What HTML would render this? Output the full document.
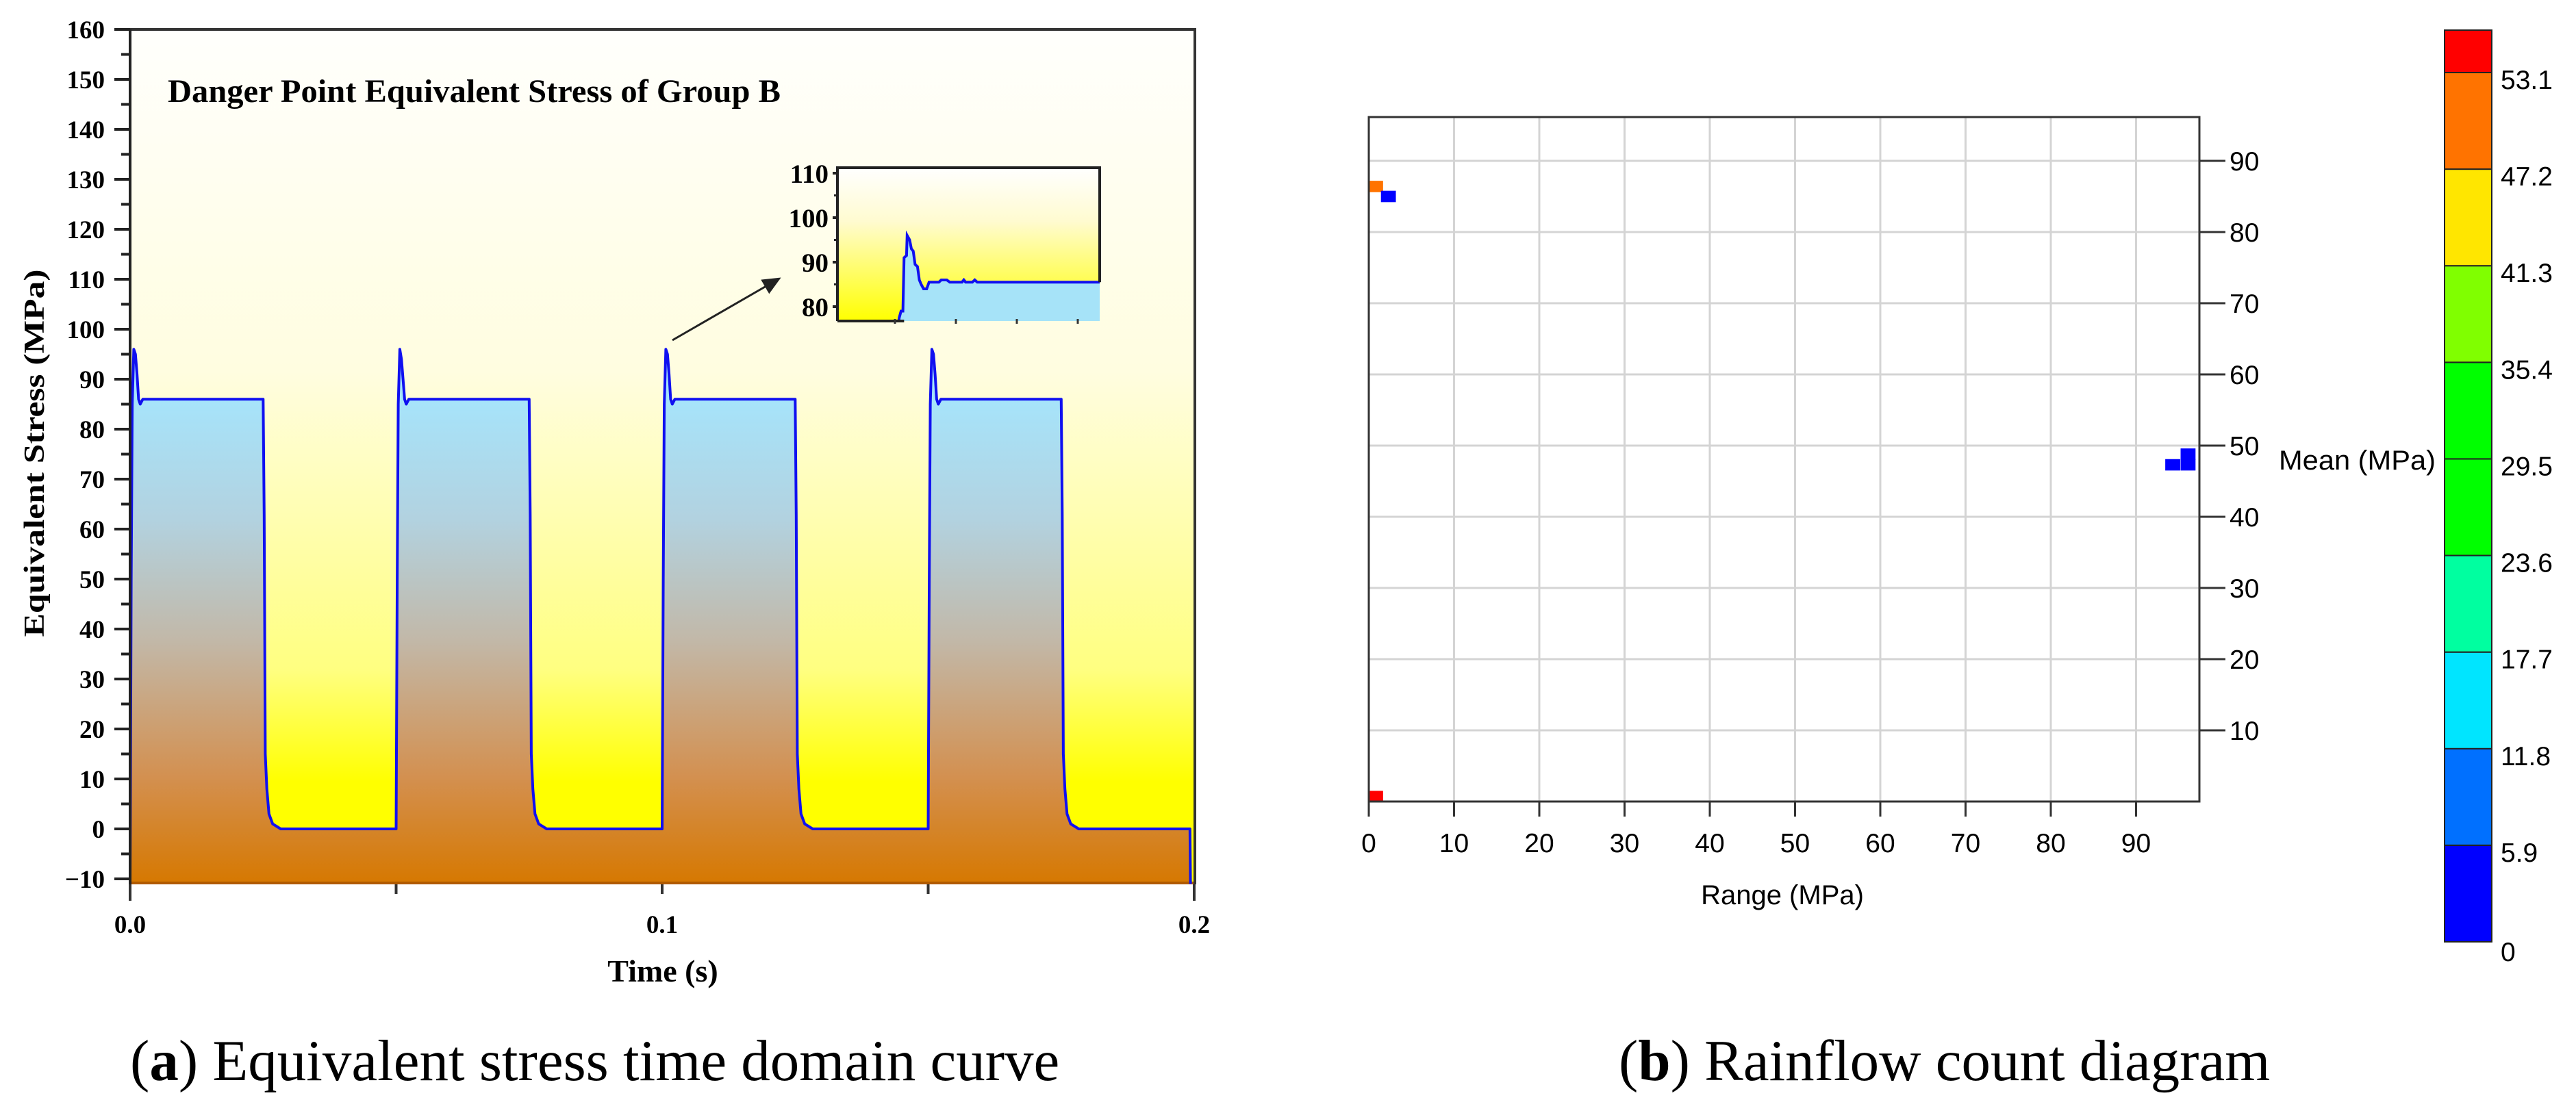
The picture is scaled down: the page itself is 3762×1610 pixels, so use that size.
<!DOCTYPE html>
<html><head><meta charset="utf-8"><style>
html,body{margin:0;padding:0;background:#fff;}
svg{display:block;}
.bs{font-family:"Liberation Serif",serif;font-weight:bold;}
.ar{font-family:"Liberation Sans",sans-serif;}
</style></head><body>
<svg id="fig" width="3762" height="1610" viewBox="0 0 3762 1610" xmlns="http://www.w3.org/2000/svg">
<defs>
<linearGradient id="bgA" x1="0" y1="43" x2="0" y2="1292" gradientUnits="userSpaceOnUse">
<stop offset="0" stop-color="#fffffc"/><stop offset="0.4" stop-color="#fffde0"/><stop offset="0.75" stop-color="#ffff80"/><stop offset="0.88" stop-color="#ffff00"/><stop offset="1" stop-color="#ffff00"/>
</linearGradient>
<linearGradient id="underA" x1="0" y1="580" x2="0" y2="1292" gradientUnits="userSpaceOnUse">
<stop offset="0" stop-color="#a6e4fb"/><stop offset="0.25" stop-color="#b2d2e0"/><stop offset="0.5" stop-color="#c2b8a8"/><stop offset="0.78" stop-color="#d39050"/><stop offset="1" stop-color="#d67800"/>
</linearGradient>
<linearGradient id="bgI" x1="0" y1="245" x2="0" y2="469" gradientUnits="userSpaceOnUse">
<stop offset="0" stop-color="#ffffff"/><stop offset="0.35" stop-color="#fffbd0"/><stop offset="1" stop-color="#ffff00"/>
</linearGradient>
<clipPath id="clipA"><rect x="190" y="43" width="1555" height="1249"/></clipPath>
<clipPath id="clipI"><rect x="1223" y="245" width="383" height="224"/></clipPath>
<marker id="arrowHead" markerWidth="10" markerHeight="10" refX="8" refY="5" orient="auto" markerUnits="strokeWidth"><path d="M0,1 L9,5 L0,9 Z" fill="#222"/></marker>
</defs>
<g id="chartA"></g>
<g id="chartB"></g>
<text x="190" y="1578" font-size="85" font-family="Liberation Serif, serif">(<tspan font-weight="bold">a</tspan>) Equivalent stress time domain curve</text>
<text x="2364" y="1578" font-size="85" font-family="Liberation Serif, serif">(<tspan font-weight="bold">b</tspan>) Rainflow count diagram</text>
</svg>
<script>
// ---------- Chart A data ----------
const stressT = [0,0.0002,0.0004,0.0007,0.0010,0.0013,0.0016,0.0019,0.0024,0.0250,0.0252,0.0254,0.0257,0.0261,0.0268,0.0283,0.0500,
0.0502,0.0504,0.0507,0.0510,0.0513,0.0516,0.0519,0.0524,0.0750,0.0752,0.0754,0.0757,0.0761,0.0768,0.0783,0.1000,
0.1002,0.1004,0.1007,0.1010,0.1013,0.1016,0.1019,0.1024,0.1250,0.1252,0.1254,0.1257,0.1261,0.1268,0.1283,0.1500,
0.1502,0.1504,0.1507,0.1510,0.1513,0.1516,0.1519,0.1524,0.1750,0.1752,0.1754,0.1757,0.1761,0.1768,0.1783,0.1992,0.1993];
const stressV = [-11,50,85,96,95,91,86,85,86,86,63,15,8,3,1,0,0,
50,85,96,94,90,86,85,86,86,63,15,8,3,1,0,0,
50,85,96,95,91,86,85,86,86,63,15,8,3,1,0,0,
50,85,96,95,91,86,85,86,86,63,15,8,3,1,0,0,-11];
const yTicksA = [-10,0,10,20,30,40,50,60,70,80,90,100,110,120,130,140,150,160];
const xTicksA = [0,0.1,0.2];
const xTickLabelsA = ["0.0","0.1","0.2"];
const insetU = [-0.94,0.0,0.07,0.1,0.13,0.15,0.19,0.2,0.24,0.27,0.3,0.33,0.37,0.4,0.43,0.47,0.52,0.56,0.72,0.76,0.85,0.9,1.1,1.13,1.16,1.27,1.31,1.35,4.3];
const insetV = [70,70,77.5,79,79,91,91.5,96,95,93,92.5,89.5,89,86,85,84,84,85.5,85.5,86,86,85.5,85.5,86,85.5,85.5,86,85.5,85.5];
const insetYTicks = [80,90,100,110];
const insetXTicks = [0,1,2,3];

// ---------- Chart B data ----------
const cellRange = [0.8, 2.3, 0.8, 94.3, 96.1, 96.1];
const cellMean = [86.4, 85.0, 0.7, 47.3, 47.3, 48.8];
const cellCount = [50, 3, 55, 3, 3, 3];
const xTicksB = [0,10,20,30,40,50,60,70,80,90];
const yTicksB = [10,20,30,40,50,60,70,80,90];
const levelValues = [0,5.9,11.8,17.7,23.6,29.5,35.4,41.3,47.2,53.1,56];
const levelLabels = ["0","5.9","11.8","17.7","23.6","29.5","35.4","41.3","47.2","53.1"];
const levelColors = ["#0000ff","#0070ff","#00e5ff","#00ffa0","#00ff00","#00ff00","#80ff00","#ffe600","#ff7300","#ff0000"];

const NS="http://www.w3.org/2000/svg";
function mk(parent,tag,attrs,text){const e=document.createElementNS(NS,tag);for(const k in attrs)e.setAttribute(k,attrs[k]);if(text!==undefined)e.textContent=text;parent.appendChild(e);return e;}

// ---------- Chart A ----------
(function(){
const g=document.getElementById('chartA');
const L=190,R=1745,T=43,B=1292;
const xA=t=>L+t*(1554/0.2);
const yA=v=>1211-v*7.3;
let el;
el=mk(g,'rect',{x:L,y:T,width:R-L,height:B-T,fill:'url(#bgA)'});


const cg=mk(g,'g',{'clip-path':'url(#clipA)'});
let pts=stressT.map((t,i)=>xA(t).toFixed(1)+','+yA(stressV[i]).toFixed(1));
el=mk(cg,'polygon',{points:xA(stressT[0])+','+B+' '+pts.join(' ')+' '+xA(stressT[stressT.length-1])+','+B,fill:'url(#underA)'});


el=mk(cg,'line',{x1:L,y1:B-2,x2:R,y2:B-2,stroke:'#b05a00','stroke-width':4});


el=mk(cg,'polyline',{points:pts.join(' '),fill:'none',stroke:'#1010f0','stroke-width':4,'stroke-linejoin':'round'});


el=mk(g,'path',{d:`M${L},${T} H${R} V${B}`,fill:'none',stroke:'#333','stroke-width':4});


el=mk(g,'line',{x1:L,y1:T,x2:L,y2:B+24,stroke:'#222','stroke-width':4});


yTicksA.forEach(v=>{
 let t=mk(g,'line',{x1:L-23,y1:yA(v),x2:L,y2:yA(v),stroke:'#222','stroke-width':4});
 
 
 if(v<160){let m=mk(g,'line',{x1:L-13,y1:yA(v+5),x2:L,y2:yA(v+5),stroke:'#222','stroke-width':4});
 
 }
 let lb=mk(g,'text',{x:153,y:yA(v)+13,'text-anchor':'end','font-size':37,class:'bs'},(v<0?'\u2212':'')+Math.abs(v));
 
 
});
[0,0.05,0.1,0.15,0.2].forEach(t=>{
 let tk=mk(g,'line',{x1:xA(t),y1:B,x2:xA(t),y2:B+(t===0||t===0.2?24:14),stroke:'#333','stroke-width':4});
 
 
});
xTicksA.forEach((t,i)=>{
 let lb=mk(g,'text',{x:xA(t),y:1363,'text-anchor':'middle','font-size':37,class:'bs'},xTickLabelsA[i]);
 
 
});
el=mk(g,'text',{x:968,y:1434,'text-anchor':'middle','font-size':46,class:'bs'},'Time (s)');


el=mk(g,'text',{x:0,y:0,'text-anchor':'middle','font-size':42,class:'bs',transform:'translate(64,662) rotate(-90)',textLength:537,lengthAdjust:'spacingAndGlyphs'},'Equivalent Stress (MPa)');


el=mk(g,'text',{x:245,y:149,'font-size':48,class:'bs',textLength:895,lengthAdjust:'spacingAndGlyphs'},'Danger Point Equivalent Stress of Group B');


el=mk(g,'line',{x1:982,y1:497,x2:1138,y2:407,stroke:'#222','stroke-width':3,'marker-end':'url(#arrowHead)'});


const IL=1223,IR=1606,IT=245,IB=469;
const xI=u=>1307+u*89;
const yI=v=>448-(v-80)*6.5;
const ig=mk(g,'g',{});


mk(ig,'rect',{x:IL,y:IT,width:IR-IL,height:IB-IT,fill:'url(#bgI)'});
const icg=mk(ig,'g',{'clip-path':'url(#clipI)'});
let ip=insetU.map((u,i)=>xI(u).toFixed(1)+','+yI(insetV[i]).toFixed(1));
el=mk(icg,'polygon',{points:xI(insetU[0])+','+IB+' '+ip.join(' ')+' '+IR+','+yI(insetV[insetV.length-1])+' '+IR+','+IB,fill:'#a6e3f8'});


el=mk(icg,'polyline',{points:ip.join(' '),fill:'none',stroke:'#1010f0','stroke-width':4});


mk(ig,'path',{d:`M${IL},${IB} V${IT} H${IR} V${yI(85.5)}`,fill:'none',stroke:'#222','stroke-width':4});
mk(ig,'line',{x1:IL,y1:IB,x2:xI(0.15),y2:IB,stroke:'#222','stroke-width':4});
insetYTicks.forEach(v=>{
 let t=mk(ig,'line',{x1:IL-7,y1:yI(v),x2:IL,y2:yI(v),stroke:'#222','stroke-width':4});
 
 
 if(v<110)mk(ig,'line',{x1:IL-5,y1:yI(v+5),x2:IL,y2:yI(v+5),stroke:'#222','stroke-width':3});
 let lb=mk(ig,'text',{x:1210,y:yI(v)+14,'text-anchor':'end','font-size':39,class:'bs'},String(v));
 
 
});
insetXTicks.forEach(u=>{
 let t=mk(ig,'line',{x1:xI(u),y1:IB-3,x2:xI(u),y2:IB+4,stroke:'#333','stroke-width':3});
 
 
});
})();

// ---------- Chart B ----------
(function(){
const g=document.getElementById('chartB');
const L=1999,R=3212,T=171,B=1171;
const xB=r=>L+r*12.45;
const yB=m=>B-m*10.4;
let el;
el=mk(g,'rect',{x:L,y:T,width:R-L,height:B-T,fill:'#fff'});


xTicksB.forEach(r=>{if(r>0){let l=mk(g,'line',{x1:xB(r),y1:T,x2:xB(r),y2:B,stroke:'#d4d4d4','stroke-width':3});
 
 }});
yTicksB.forEach(m=>{let l=mk(g,'line',{x1:L,y1:yB(m),x2:R,y2:yB(m),stroke:'#d4d4d4','stroke-width':3});
 
 });
const cw=1.75*12.45, ch=1.6*10.4;
cellRange.forEach((r,i)=>{
 let c=cellCount[i],k=0;
 for(let j=0;j<levelColors.length;j++){if(c>=levelValues[j])k=j;}
 let rc=mk(g,'rect',{x:xB(r)-cw/2,y:yB(cellMean[i])-ch/2,width:cw,height:ch,fill:levelColors[k]});
 
 
});
el=mk(g,'rect',{x:L,y:T,width:R-L,height:B-T,fill:'none',stroke:'#333','stroke-width':3});


xTicksB.forEach(r=>{
 let t=mk(g,'line',{x1:xB(r),y1:B,x2:xB(r),y2:B+22,stroke:'#333','stroke-width':3});
 
 
 let lb=mk(g,'text',{x:xB(r),y:1245,'text-anchor':'middle','font-size':39,class:'ar'},String(r));
 
 
});
yTicksB.forEach(m=>{
 let t=mk(g,'line',{x1:R,y1:yB(m),x2:R+38,y2:yB(m),stroke:'#333','stroke-width':3});
 
 
 let lb=mk(g,'text',{x:3256,y:yB(m)+14,'font-size':39,class:'ar'},String(m));
 
 
});
el=mk(g,'text',{x:2603,y:1321,'text-anchor':'middle','font-size':40,class:'ar'},'Range (MPa)');


el=mk(g,'text',{x:3328,y:686,'font-size':40,class:'ar',textLength:229,lengthAdjust:'spacingAndGlyphs'},'Mean (MPa)');


const CL=3570,CR=3639,CT=44,CB=1376;
const cg=mk(g,'g',{});


levelColors.forEach((c,i)=>{
 const y0=CB-(levelValues[i]/5.9)*((CB-106)/9);
 const y1=i<9?CB-(levelValues[i+1]/5.9)*((CB-106)/9):CT;
 let r=mk(cg,'rect',{x:CL,y:y1,width:CR-CL,height:y0-y1,fill:c,stroke:'#222','stroke-width':2});
 
 
});
levelLabels.forEach((s,i)=>{
 const y=CB-(levelValues[i]/5.9)*((CB-106)/9);
 let lb=mk(cg,'text',{x:3652,y:y+(i===0?28:24),'font-size':39,class:'ar'},s);
 
 
});
})();
</script>
</body></html>
